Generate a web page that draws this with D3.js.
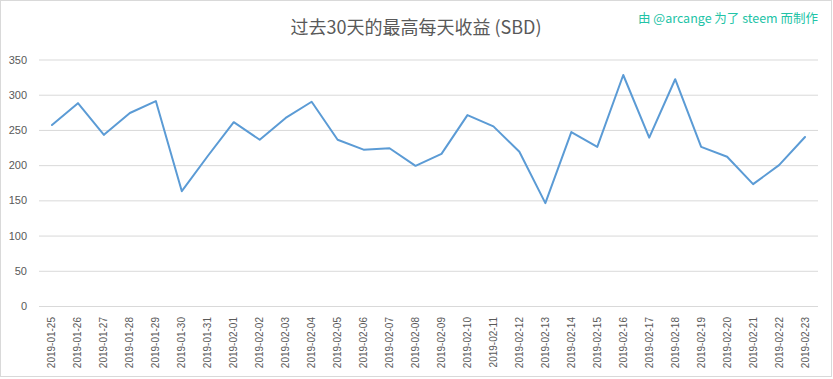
<!DOCTYPE html>
<html><head><meta charset="utf-8">
<script src="https://cdn.jsdelivr.net/npm/d3@7"></script>
<style>
html,body{margin:0;padding:0;background:#fff;}
svg{display:block;}
</style></head>
<body>
<svg id="chart" width="833" height="379"></svg>
<script>
const categories = ["2019-01-25","2019-01-26","2019-01-27","2019-01-28","2019-01-29","2019-01-30","2019-01-31",
"2019-02-01","2019-02-02","2019-02-03","2019-02-04","2019-02-05","2019-02-06","2019-02-07","2019-02-08",
"2019-02-09","2019-02-10","2019-02-11","2019-02-12","2019-02-13","2019-02-14","2019-02-15","2019-02-16",
"2019-02-17","2019-02-18","2019-02-19","2019-02-20","2019-02-21","2019-02-22","2019-02-23"];
const values = [257,288,243,274,291,163,213,261,236,267,290,236,222,224,199,216,271,255,219,146,247,226,328,239,322,226,212,173,200,240];
const yTicks = [0,50,100,150,200,250,300,350];
const titleText = "过去30天的最高每天收益 (SBD)";
const creditText = "由 @arcange 为了 steem 而制作";

(function(){
const svg = d3.select("#chart");
const W = 833, H = 379;
const mLeft = 39, mRight = 818, mTop = 59.5, mBottom = 306;

svg.append("rect").attr("x",0.5).attr("y",0.5).attr("width",W-2).attr("height",H-3)
  .attr("fill","#fff").attr("stroke","#d9d9d9");

const x = d3.scaleBand().domain(categories).range([mLeft,mRight]);
const y = d3.scaleLinear().domain([0,350]).range([mBottom,mTop]);

const yAxis = d3.axisLeft(y).tickValues(yTicks).tickSize(-(mRight-mLeft)).tickPadding(12);
const gy = svg.append("g").attr("transform",`translate(${mLeft},0)`).call(yAxis);
gy.select(".domain").remove();
gy.selectAll(".tick line").attr("stroke","#d9d9d9").attr("stroke-width",1);
gy.selectAll(".tick text").attr("fill","#595959").attr("font-family","Liberation Sans, Arial, sans-serif").attr("font-size",11);

const xAxis = d3.axisBottom(x).tickSize(0).tickPadding(0);
const gx = svg.append("g").attr("transform",`translate(0,${mBottom})`).call(xAxis);
gx.select(".domain").remove();
gx.selectAll(".tick text")
  .attr("fill","#595959").attr("font-family","Liberation Sans, Arial, sans-serif").attr("font-size",10)
  .attr("text-anchor","end").attr("dy","0.35em").attr("y",0)
  .attr("transform","translate(0,11) rotate(-90)");

const line = d3.line().x((d,i)=>x(categories[i])+x.bandwidth()/2).y(d=>y(d));
svg.append("path").datum(values).attr("d",line).attr("fill","none")
  .attr("stroke","#5b9bd5").attr("stroke-width",2).attr("stroke-linejoin","round").attr("stroke-linecap","round");

svg.append("text").attr("x",416).attr("y",34).attr("text-anchor","middle")
  .attr("font-family","Noto Sans CJK SC, sans-serif").attr("font-size",18).attr("fill","#595959")
  .text(titleText);

svg.append("text").attr("x",818).attr("y",23).attr("text-anchor","end")
  .attr("font-family","Noto Sans CJK SC, sans-serif").attr("font-size",12.5).attr("fill","#22c3a6")
  .text(creditText);
})();
</script>
</body></html>
